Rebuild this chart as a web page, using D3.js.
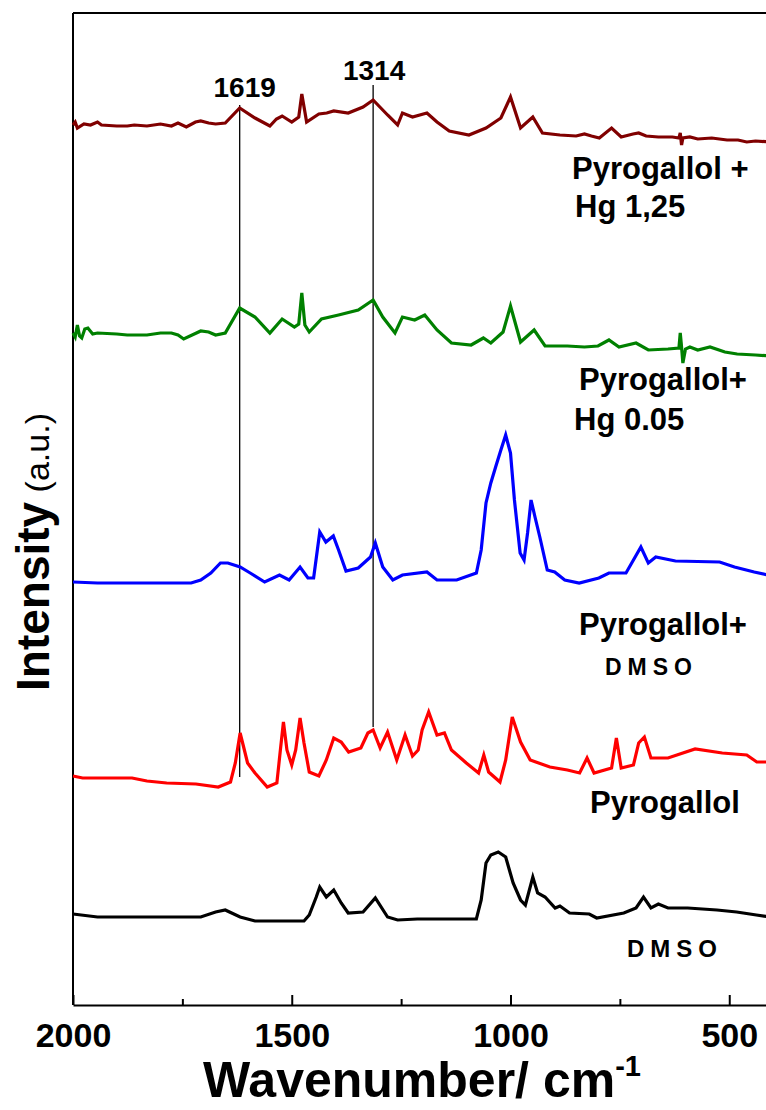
<!DOCTYPE html>
<html>
<head>
<meta charset="utf-8">
<script src="https://cdn.jsdelivr.net/npm/d3@7"></script>
<style>
  body { margin: 0; background: #fff; }
  svg { display: block; font-family: "Liberation Sans", Arial, sans-serif; }
</style>
</head>
<body>
<div id="chart"></div>
<script>
// spectra: [wavenumber, relative intensity]
var hg125 = [[2000,0],[1995,3],[1990,-3],[1975,1],[1960,0],[1944,3],[1935,0],[1900,-1],[1876,-1],[1860,0],[1831,-1],[1800,1],[1775,-1],[1760,2],[1741,-2],[1720,3],[1708,4],[1690,2],[1674,1],[1652,2],[1619,17],[1584,7],[1550,-1],[1535,6],[1522,9],[1500,3],[1484,8],[1477,31],[1466,3],[1438,11],[1420,12],[1404,14],[1371,12],[1337,18],[1314,25],[1281,10],[1258,0],[1247,12],[1224,8],[1191,12],[1168,3],[1140,-6],[1095,-10],[1056,-3],[1022,7],[1000,28],[977,-3],[949,8],[927,-8],[887,-10],[850,-11],[831,-9],[815,-11],[797,-13],[769,-3],[747,-12],[720,-9],[707,-8],[690,-11],[662,-12],[630,-12],[615,-13],[612,-8],[609,-20],[606,-13],[590,-12],[572,-14],[540,-13],[505,-15],[480,-15],[460,-17],[440,-16],[406,-17]];
var hg005 = [[2000,0],[1995,-4],[1990,8],[1985,-3],[1980,-5],[1973,4],[1966,5],[1955,-1],[1944,0],[1900,-1],[1876,-2],[1831,-2],[1800,0],[1775,0],[1760,-2],[1747,-6],[1708,2],[1690,1],[1674,-2],[1652,0],[1619,25],[1584,16],[1550,0],[1522,14],[1494,6],[1484,9],[1477,40],[1470,8],[1460,1],[1432,14],[1393,18],[1348,23],[1314,33],[1292,16],[1264,0],[1247,16],[1219,13],[1196,18],[1168,3],[1135,-10],[1090,-12],[1062,-5],[1045,-10],[1017,1],[1000,27],[977,-9],[946,3],[921,-13],[870,-13],[831,-14],[800,-13],[775,-7],[752,-14],[713,-10],[685,-17],[640,-16],[615,-15],[612,0],[609,-14],[606,-30],[600,-16],[590,-14],[572,-17],[544,-14],[510,-19],[482,-21],[440,-22],[406,-23]];
var pyroDmso = [[2000,0],[1944,-1],[1730,-1],[1708,2],[1685,9],[1663,19],[1646,19],[1618,15],[1595,9],[1562,0],[1528,7],[1506,2],[1481,15],[1463,4],[1450,4],[1436,50],[1422,40],[1405,46],[1393,32],[1376,11],[1348,14],[1320,25],[1309,39],[1292,15],[1269,2],[1247,7],[1191,10],[1168,2],[1123,2],[1078,9],[1067,32],[1056,79],[1045,99],[1034,115],[1022,132],[1011,147],[1000,129],[991,82],[978,29],[969,22],[961,49],[953,82],[944,65],[933,45],[916,12],[899,10],[876,2],[843,-1],[798,4],[775,9],[736,9],[719,22],[702,35],[685,19],[668,25],[623,21],[522,20],[488,15],[443,10],[412,7]];
var pyro = [[2000,0],[1978,-2],[1865,-2],[1831,-5],[1786,-7],[1719,-8],[1668,-11],[1640,-6],[1629,13],[1618,43],[1610,29],[1601,13],[1584,3],[1556,-11],[1534,-7],[1526,26],[1519,54],[1511,26],[1500,11],[1491,26],[1481,58],[1472,33],[1460,4],[1438,0],[1421,16],[1404,38],[1387,34],[1370,24],[1342,28],[1326,43],[1314,46],[1298,28],[1281,44],[1260,16],[1241,41],[1224,20],[1211,26],[1202,46],[1187,64],[1168,41],[1151,43],[1135,26],[1101,13],[1073,3],[1061,21],[1050,4],[1024,-6],[1011,16],[996,59],[977,34],[955,16],[910,9],[870,6],[842,3],[825,18],[809,3],[769,8],[758,38],[747,8],[719,11],[707,33],[694,39],[679,18],[640,18],[578,27],[516,23],[460,21],[437,14],[406,14]];
var dmso = [[2000,0],[1944,-3],[1708,-3],[1674,2],[1652,4],[1618,-3],[1584,-7],[1472,-7],[1460,-1],[1444,17],[1436,27],[1421,17],[1404,24],[1387,11],[1371,1],[1337,2],[1309,16],[1281,-3],[1258,-6],[1213,-5],[1078,-5],[1067,14],[1056,51],[1045,59],[1028,62],[1011,57],[994,31],[977,14],[966,9],[949,37],[938,21],[921,17],[898,6],[887,8],[865,1],[820,0],[803,-4],[741,1],[713,6],[696,17],[679,6],[662,10],[640,6],[595,6],[528,4],[483,2],[438,-1],[406,-3]];

var seriesNames = ["Pyrogallol + Hg 1,25", "Pyrogallol+ Hg 0.05", "Pyrogallol+ DMSO", "Pyrogallol", "DMSO"];
var seriesData = [hg125, hg005, pyroDmso, pyro, dmso];
var seriesOffsets = [880, 672, 423, 229, 91];
var seriesColors = ["#800000", "#008000", "#0000ff", "#ff0000", "#000000"];

var majorTicks = [2000, 1500, 1000, 500];
var minorTicks = [1750, 1250, 750];

// marked peaks
var peakValues = [1619, 1314];
var peakTop = [900, 920];     // where the line starts (y units)
var peakBottom = [228, 278];  // where it stops

// SVG

var svgWidth = 766;
var svgHeight = 1110;

var margin = { top: 13, left: 73, bottom: 105 };
var plotHeight = svgHeight - margin.top - margin.bottom;

var svg = d3.select("#chart")
    .append("svg")
    .attr("width", svgWidth)
    .attr("height", svgHeight);

var xScale = d3.scaleLinear()
    .domain([2000, 400])
    .range([margin.left, margin.left + 700]);

var yScale = d3.scaleLinear()
    .domain([0, plotHeight])
    .range([margin.top + plotHeight, margin.top]);

var bottomY = margin.top + plotHeight;

// frame: left and top
svg.append("line")
    .attr("x1", margin.left).attr("x2", margin.left)
    .attr("y1", margin.top).attr("y2", bottomY)
    .attr("stroke", "#000").attr("stroke-width", 2);
svg.append("line")
    .attr("x1", margin.left).attr("x2", svgWidth)
    .attr("y1", margin.top).attr("y2", margin.top)
    .attr("stroke", "#000").attr("stroke-width", 2);

// bottom axis, ticks point inward
var xAxis = svg.append("g")
    .attr("transform", `translate(0, ${bottomY})`)
    .call(d3.axisBottom(xScale).tickValues(majorTicks).tickFormat(d3.format("d"))
        .tickSizeInner(-10).tickSizeOuter(0));

xAxis.select(".domain").attr("stroke-width", 2);
xAxis.selectAll(".tick line").attr("stroke-width", 2);
xAxis.selectAll(".tick text")
    .attr("font-size", 34)
    .attr("font-weight", "bold")
    .attr("fill", "#000")
    .attr("dy", "0.71em")
    .attr("y", 18);

var minorAxis = svg.append("g")
    .attr("transform", `translate(0, ${bottomY})`)
    .call(d3.axisBottom(xScale).tickValues(minorTicks).tickSizeInner(-6).tickSizeOuter(0).tickFormat(""));
minorAxis.select(".domain").remove();
minorAxis.selectAll(".tick line").attr("stroke-width", 2);

// peak marker lines
peakValues.forEach(function (p, i) {
    svg.append("line")
        .attr("x1", xScale(p)).attr("x2", xScale(p))
        .attr("y1", yScale(peakTop[i])).attr("y2", yScale(peakBottom[i]))
        .attr("stroke", "#000").attr("stroke-width", 1.3);
});

// spectra
var line = d3.line()
    .x(d => xScale(d[0]))
    .y(d => yScale(d[1]));

seriesData.forEach(function (s, i) {
    var shifted = s.map(d => [d[0], d[1] + seriesOffsets[i]]);
    svg.append("path")
        .datum(shifted)
        .attr("d", line)
        .attr("fill", "none")
        .attr("stroke", seriesColors[i])
        .attr("stroke-width", 3.2)
        .attr("stroke-linejoin", "miter");
});

// peak labels
svg.append("text")
    .attr("x", xScale(1619) + 5).attr("y", 97)
    .attr("text-anchor", "middle")
    .attr("font-size", 28).attr("font-weight", "bold")
    .text("1619");
svg.append("text")
    .attr("x", xScale(1314) + 1).attr("y", 80)
    .attr("text-anchor", "middle")
    .attr("font-size", 28).attr("font-weight", "bold")
    .text("1314");

// series labels
var labelGroup = svg.append("g")
    .attr("font-weight", "bold")
    .attr("fill", "#000");

function addLabel(txt, x, y, size, spacing) {
    labelGroup.append("text")
        .attr("x", x).attr("y", y)
        .attr("font-size", size)
        .attr("letter-spacing", spacing || 0)
        .text(txt);
}

addLabel("Pyrogallol +", 572, 179, 31);
addLabel("Hg 1,25", 575, 217, 31);
addLabel("Pyrogallol+", 579, 390, 31);
addLabel("Hg 0.05", 574, 430, 31);
addLabel("Pyrogallol+", 579, 635, 31);
addLabel("DMSO", 605, 675, 23, 6);
addLabel("Pyrogallol", 590, 813, 31);
addLabel("DMSO", 627, 957, 24, 6);

// axis titles
var xTitle = svg.append("text")
    .attr("x", 203).attr("y", 1097)
    .attr("font-size", 50).attr("font-weight", "bold");
xTitle.append("tspan").text("Wavenumber/ cm");
xTitle.append("tspan").attr("font-size", 29).attr("dy", -21).text("-1");

var yTitle = svg.append("text")
    .attr("transform", "translate(49, 552) rotate(-90)")
    .attr("text-anchor", "middle");
yTitle.append("tspan").attr("font-size", 46).attr("font-weight", "bold").text("Intensity");
yTitle.append("tspan").attr("font-size", 34).text(" (a.u.)");
</script>
</body>
</html>
